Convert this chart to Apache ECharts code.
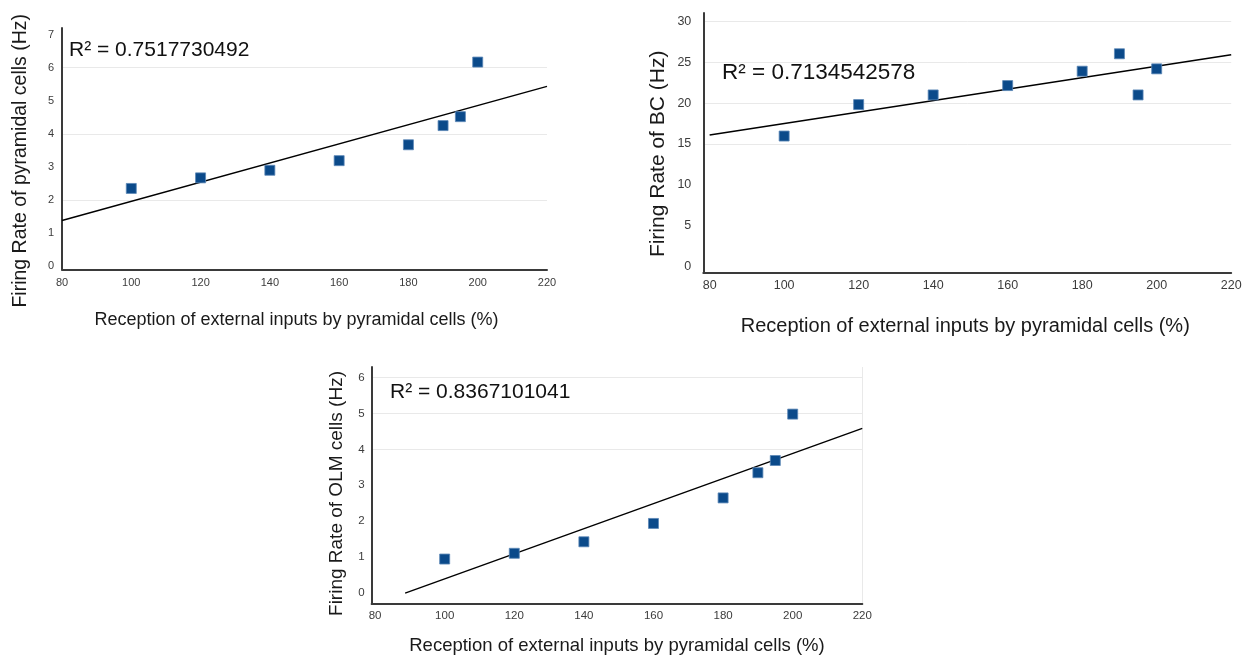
<!DOCTYPE html>
<html>
<head>
<meta charset="utf-8">
<script src="https://cdn.jsdelivr.net/npm/echarts@6/dist/echarts.min.js"></script>
<style>
  html, body { margin: 0; padding: 0; background: #ffffff; }
  #chart { width: 1250px; height: 659px; }
</style>
</head>
<body>
<div id="chart"></div>
<script>
// Stimulation levels (% of external input received by pyramidal cells)
const inputLevels = [100, 120, 140, 160, 180, 190, 195, 200];

// Mean firing rates (Hz) at each input level
const pyramidalRate = [2.35, 2.67, 2.90, 3.19, 3.67, 4.25, 4.52, 6.17];
const bcRate        = [15.98, 19.84, 21.02, 22.17, 23.93, 26.07, 21.02, 24.22];
const olmRate       = [0.95, 1.11, 1.43, 1.94, 2.65, 3.35, 3.69, 4.98];

// Axis tick labels
const xTickLabels     = [80, 100, 120, 140, 160, 180, 200, 220];
const pyramidalTicks  = [0, 1, 2, 3, 4, 5, 6, 7];
const bcTicks         = [0, 5, 10, 15, 20, 25, 30];
const olmTicks        = [0, 1, 2, 3, 4, 5, 6];

// Horizontal reference lines shown in each panel
const pyramidalGridLines = [2, 4, 6];
const bcGridLines        = [15, 20, 25, 30];
const olmGridLines       = [4, 5, 6];

// Texts
const r2Labels = ['R\u00b2 = 0.7517730492', 'R\u00b2 = 0.7134542578', 'R\u00b2 = 0.8367101041'];
const yTitles = ['Firing Rate of pyramidal cells (Hz)', 'Firing Rate of BC (Hz)', 'Firing Rate of OLM cells (Hz)'];
const xTitle = 'Reception of external inputs by pyramidal cells (%)';

// Least-squares linear trend over [x0, x1]; the line is not drawn below zero
function trendLine(xs, ys, x0, x1) {
  const n = xs.length;
  const mx = xs.reduce((a, b) => a + b, 0) / n;
  const my = ys.reduce((a, b) => a + b, 0) / n;
  let sxy = 0, sxx = 0;
  xs.forEach((x, i) => { sxy += (x - mx) * (ys[i] - my); sxx += (x - mx) * (x - mx); });
  const slope = sxy / sxx;
  const icpt = my - slope * mx;
  let start = x0;
  if (icpt + slope * x0 < 0) start = -icpt / slope;
  return [[start, icpt + slope * start], [x1, icpt + slope * x1]];
}

const FONT = "'Liberation Sans', Arial, sans-serif";

// Layout and styling of the three panels
const panels = [
  {
    rates: pyramidalRate, yTicks: pyramidalTicks, gridLines: pyramidalGridLines,
    grid: { left: 62, top: 28, width: 485, height: 241.5 },
    xMin: 80, xMax: 220, yMin: -0.1, yMax: 7.2,
    tickFont: 11, xLabelMargin: 8, yLabelMargin: 8,
    yName: { size: 19.5, gap: 31, shift: 12 },
    xName: { size: 18, gap: 42, shift: -8 },
    r2: { left: 69, top: 40, size: 21 },
    rightEdge: false
  },
  {
    rates: bcRate, yTicks: bcTicks, gridLines: bcGridLines,
    grid: { left: 703.3, top: 13, width: 527.9, height: 259.7 },
    xMin: 78.3, xMax: 220, yMin: -0.78, yMax: 31.07,
    tickFont: 12.5, xLabelMargin: 6, yLabelMargin: 12,
    yName: { size: 21, gap: 35, shift: 11 },
    xName: { size: 20, gap: 44, shift: -2 },
    r2: { left: 722, top: 61, size: 22.5 },
    rightEdge: false
  },
  {
    rates: olmRate, yTicks: olmTicks, gridLines: olmGridLines,
    grid: { left: 371.6, top: 367, width: 490.7, height: 237 },
    xMin: 79, xMax: 220, yMin: -0.3, yMax: 6.29,
    tickFont: 11.5, xLabelMargin: 6, yLabelMargin: 7,
    yName: { size: 19, gap: 25, shift: 8 },
    xName: { size: 18.5, gap: 32, shift: 0 },
    r2: { left: 390, top: 382, size: 21 },
    rightEdge: true
  }
];

const grids = [], xAxes = [], yAxes = [], series = [], titles = [];

panels.forEach((p, i) => {
  grids.push(Object.assign({ containLabel: false, outerBoundsMode: 'none' }, p.grid));

  xAxes.push({
    type: 'value', gridIndex: i, min: p.xMin, max: p.xMax,
    axisLine: { show: true, onZero: false, lineStyle: { color: '#3a3a3a', width: 2 } },
    axisTick: { show: false },
    splitLine: { show: false },
    axisLabel: {
      customValues: xTickLabels, margin: p.xLabelMargin,
      color: '#3c3c3c', fontSize: p.tickFont, fontFamily: FONT
    },
    name: xTitle, nameLocation: 'middle', nameGap: p.xName.gap,
    nameTextStyle: {
      fontSize: p.xName.size, fontFamily: FONT, color: '#1a1a1a',
      padding: p.xName.shift < 0 ? [0, -2 * p.xName.shift, 0, 0] : [0, 0, 0, 2 * p.xName.shift]
    }
  });

  yAxes.push({
    type: 'value', gridIndex: i, min: p.yMin, max: p.yMax,
    axisLine: { show: true, onZero: false, lineStyle: { color: '#3a3a3a', width: 2 } },
    axisTick: { show: false },
    splitLine: { show: false },
    axisLabel: {
      customValues: p.yTicks, margin: p.yLabelMargin,
      color: '#3c3c3c', fontSize: p.tickFont, fontFamily: FONT
    },
    name: yTitles[i], nameLocation: 'middle', nameGap: p.yName.gap,
    nameTextStyle: {
      fontSize: p.yName.size, fontFamily: FONT, color: '#1a1a1a',
      padding: [0, 2 * p.yName.shift, 0, 0]
    }
  });

  const refLines = p.gridLines.map(v => ({ yAxis: v }));
  if (p.rightEdge) refLines.push({ xAxis: p.xMax });

  // light reference lines, kept beneath the data
  series.push({
    type: 'line', xAxisIndex: i, yAxisIndex: i, data: [], z: 0, silent: true,
    markLine: {
      z: 0, zlevel: 0,
      silent: true, symbol: ['none', 'none'], label: { show: false },
      lineStyle: { color: '#e9e9e9', type: 'solid', width: 1 },
      emphasis: { disabled: true },
      data: refLines
    }
  });

  // least-squares trend line
  series.push({
    type: 'line', xAxisIndex: i, yAxisIndex: i,
    data: trendLine(inputLevels, p.rates, 80, 220),
    showSymbol: false, symbol: 'none', silent: true, z: 6,
    lineStyle: { color: '#000000', width: 1.4 }
  });

  // measured firing rates
  series.push({
    type: 'scatter', xAxisIndex: i, yAxisIndex: i,
    data: inputLevels.map((x, k) => [x, p.rates[k]]),
    symbol: 'rect', symbolSize: 10, z: 7,
    itemStyle: { color: '#0b4a8a', borderColor: '#5a86b6', borderWidth: 0.8, opacity: 1 }
  });

  titles.push({
    text: r2Labels[i], left: p.r2.left, top: p.r2.top, padding: 0,
    textStyle: { fontSize: p.r2.size, fontWeight: 'normal', fontFamily: FONT, color: '#111111' }
  });
});

const chart = echarts.init(document.getElementById('chart'), null, { renderer: 'canvas' });
chart.setOption({
  backgroundColor: '#ffffff',
  animation: false,
  title: titles,
  grid: grids,
  xAxis: xAxes,
  yAxis: yAxes,
  series: series
});
</script>
</body>
</html>
